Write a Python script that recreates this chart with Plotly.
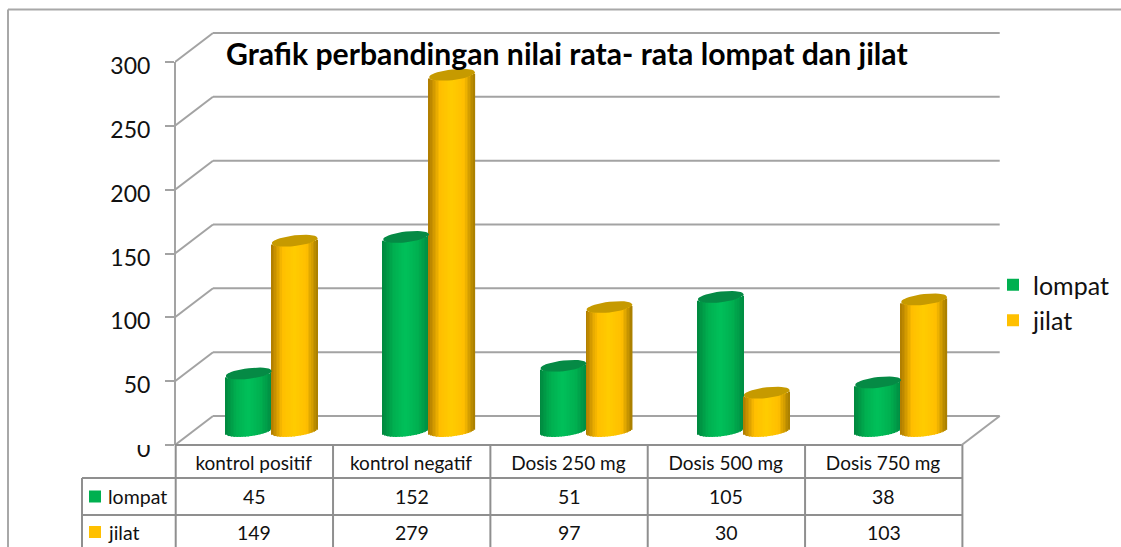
import math
import plotly.graph_objects as go

categories = ["kontrol positif", "kontrol negatif", "Dosis 250 mg", "Dosis 500 mg", "Dosis 750 mg"]
lompat = [45, 152, 51, 105, 38]
jilat = [149, 279, 97, 30, 103]
y_ticks = [0, 50, 100, 150, 200, 250, 300]
title = "Grafik perbandingan nilai rata- rata lompat dan jilat"

W, H = 1121, 547
ML, MR, MT, MB = 175, 116, 25, 102
PX_PER_CAT = 157.34
PX_PER_UNIT = 383 / 300
X_MAX = (W - MR - ML) / PX_PER_CAT
Y_MAX = (H - MB - MT) / PX_PER_UNIT
DEPTH_X, DEPTH_Y = 38 / PX_PER_CAT, 29 / PX_PER_UNIT
BAR_DX, BAR_DY = 0.1146, 11.0
HALF_W = 23 / PX_PER_CAT
TILT, ELL = 2.0, 4.2
STRIPES = 30
FONT = "Lato"
GRID = "#a3a3a3"
TABLE = "#8f8f8f"


def px(x):
    return (x - ML) / (W - ML - MR)


def py(y):
    return (H - MB - y) / (H - MB - MT)


def mix(a, b, t):
    return tuple(round(a[i] + (b[i] - a[i]) * t) for i in range(3))


def shade(u, edge_l, edge_r, mid, peak):
    if u < 0:
        t = min(1, (u + 1) / 0.5)
        c = mix(edge_l, mid, t)
        c = mix(c, peak, max(0, (u + 0.5) / 0.5))
    else:
        t = min(1, (1 - u) / 0.45)
        c = mix(edge_r, mid, t)
        c = mix(c, peak, max(0, (0.55 - u) / 0.55))
    return "rgb(%d,%d,%d)" % c


series = [
    ("lompat", lompat, -1, "#00B050", "#058A45",
     ((0, 135, 62), (0, 140, 66), (0, 176, 80), (0, 192, 90))),
    ("jilat", jilat, 1, "#FFC000", "#C69A00",
     ((172, 122, 0), (165, 124, 0), (255, 190, 0), (255, 204, 0))),
]

fig = go.Figure()
centers = [i + 0.5 + BAR_DX for i in range(len(categories))]

for name, vals, side, col, top_col, pal in series:
    xs = [c + side * HALF_W for c in centers]
    fig.add_trace(go.Bar(x=xs, y=vals, base=[BAR_DY] * len(vals), width=HALF_W * 1.8,
                         name=name, marker=dict(color=col, line=dict(width=0)),
                         hoverinfo="skip"))
    for k in range(STRIPES):
        u = -1 + (2 * k + 1) / STRIPES
        base = BAR_DY + TILT * u - ELL * math.sqrt(1 - u * u)
        fig.add_trace(go.Bar(
            x=[x + u * HALF_W for x in xs], y=vals, base=[base] * len(vals),
            width=2 * HALF_W / STRIPES * 1.12, showlegend=False, hoverinfo="skip",
            marker=dict(color=shade(u, *pal), line=dict(width=0))))
    ex, ey = [], []
    for x, v in zip(xs, vals):
        c = BAR_DY + v
        n = 36
        for j in range(n + 1):
            a = 2 * math.pi * j / n
            ex.append(x + HALF_W * math.cos(a))
            ey.append(c + TILT * math.cos(a) + ELL * math.sin(a))
        ex.append(None)
        ey.append(None)
    fig.add_trace(go.Scatter(x=ex, y=ey, mode="lines", fill="toself", fillcolor=top_col,
                             line=dict(width=0, color=top_col), showlegend=False, hoverinfo="skip"))

shapes = []


def line(x0, y0, x1, y1, color, w=2, xref="x", yref="y", layer="below"):
    shapes.append(dict(type="line", x0=x0, y0=y0, x1=x1, y1=y1, xref=xref, yref=yref,
                       layer=layer, line=dict(color=color, width=w)))


# 3D walls
for t in y_ticks:
    line(0, t, DEPTH_X, t + DEPTH_Y, GRID)
    line(DEPTH_X, t + DEPTH_Y, len(categories) + DEPTH_X, t + DEPTH_Y, GRID)
line(len(categories), 0, len(categories) + DEPTH_X, DEPTH_Y, GRID)


def pline(x0, y0, x1, y1, color=TABLE, w=2, layer="above"):
    line(px(x0), py(y0), px(x1), py(y1), color, w, "paper", "paper", layer)


# outer frame
pline(8, 9.5, W, 9.5, "#a8a8a8")
pline(8, 9.5, 8, H, "#a8a8a8")

# axes
pline(175, 445, 175, 62, GRID)
pline(175, 445, 961.7, 445, TABLE)

# data table
col_x = [175.7 + i * PX_PER_CAT for i in range(len(categories) + 1)]
for x in col_x:
    pline(x, 445, x, H)
pline(82, 478, col_x[-1], 478)
pline(82, 515, col_x[-1], 515)
pline(82, 478, 82, H)

# hide upper part of the 0 label
shapes.append(dict(type="rect", xref="paper", yref="paper", x0=px(100), x1=px(164),
                   y0=py(445), y1=py(425), layer="above",
                   fillcolor="white", line=dict(width=0)))

annotations = []
rows = [("lompat", lompat, 496.5, "#00B050"), ("jilat", jilat, 532, "#FFC000")]
for name, vals, yc, col in rows:
    shapes.append(dict(type="rect", xref="paper", yref="paper", x0=px(89), x1=px(101),
                       y0=py(yc + 6), y1=py(yc - 6), fillcolor=col, line=dict(width=0), layer="above"))
    annotations.append(dict(text=name, x=px(106), y=py(yc), xref="paper", yref="paper",
                            xanchor="left", yanchor="middle", showarrow=False,
                            font=dict(family=FONT, size=19.5, color="#111")))
    for i, v in enumerate(vals):
        annotations.append(dict(text=str(v), x=px(col_x[i] + PX_PER_CAT / 2), y=py(yc),
                                xref="paper", yref="paper", xanchor="center", yanchor="middle",
                                showarrow=False, font=dict(family=FONT, size=19.5, color="#111")))

fig.update_layout(
    width=W, height=H, autosize=False, barmode="overlay",
    margin=dict(l=ML, r=MR, t=MT, b=MB, pad=0, autoexpand=False),
    paper_bgcolor="white", plot_bgcolor="white",
    title=dict(text="<b>%s</b>" % title, x=px(226), y=1 - 54 / H, xref="paper", yref="container",
               xanchor="left", yanchor="middle", font=dict(family=FONT, size=30.2, color="#000")),
    xaxis=dict(range=[0, X_MAX], tickvals=[i + 0.5 for i in range(len(categories))], ticktext=categories,
               showgrid=False, zeroline=False, showline=False, automargin=False,
               ticks="", tickfont=dict(family=FONT, size=19, color="#111"), ticklabelstandoff=5),
    yaxis=dict(range=[0, Y_MAX], tickvals=y_ticks, showgrid=False, zeroline=False,
               showline=False, ticks="outside", ticklen=9, automargin=False,
               tickcolor=GRID, tickwidth=2, tickfont=dict(family=FONT, size=23, color="#111"),
               ticklabelstandoff=10, ticklabelshift=4),
    legend=dict(x=px(993), y=py(262), xanchor="left", yanchor="top", bgcolor="rgba(0,0,0,0)",
                font=dict(family=FONT, size=25, color="#111"), itemwidth=30, tracegroupgap=0),
    shapes=shapes, annotations=annotations,
)

fig.write_html("out.html", config={"displayModeBar": False},
               post_script="document.body.style.margin='0';document.body.style.overflow='hidden';")
